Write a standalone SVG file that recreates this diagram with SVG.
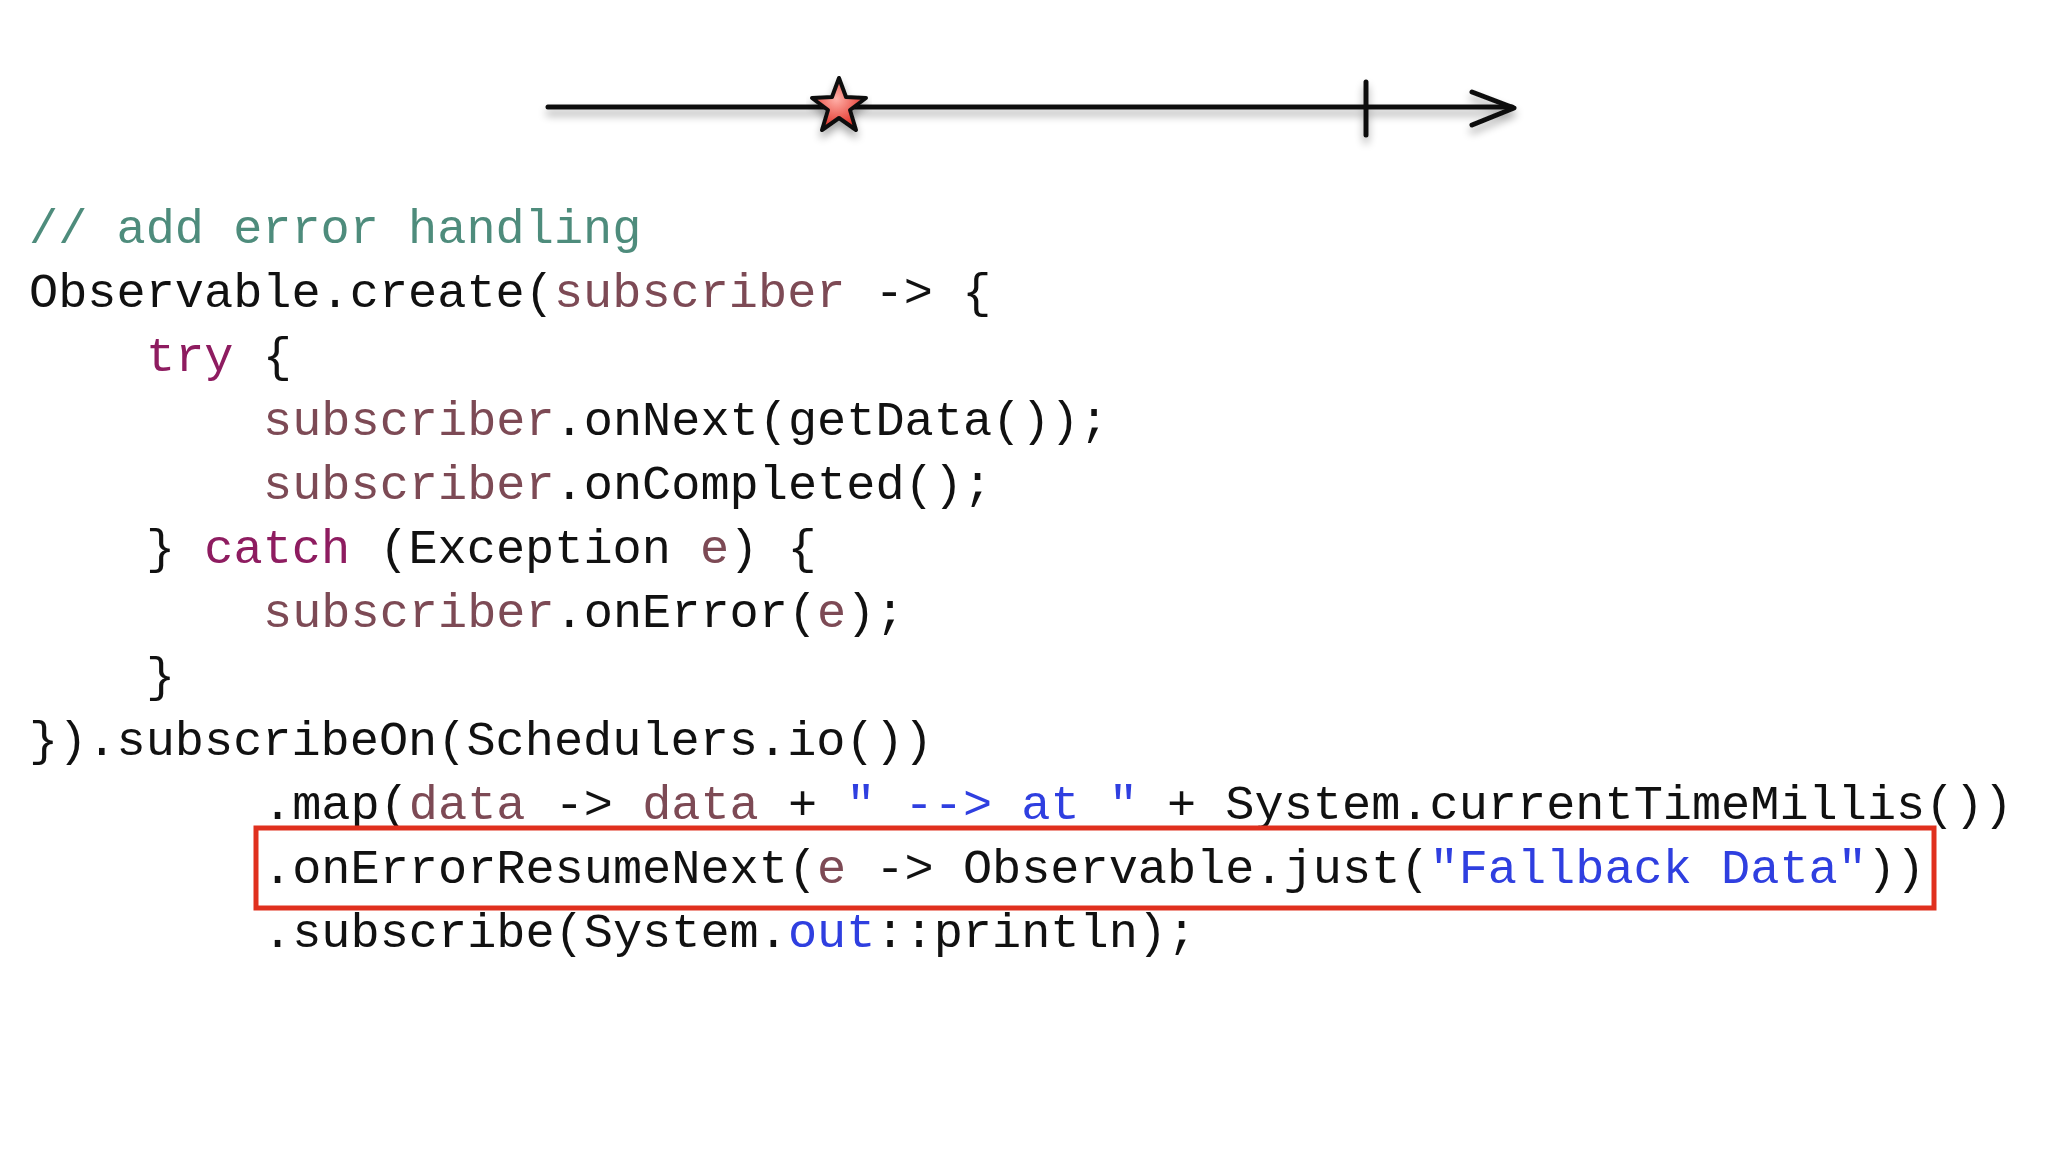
<svg xmlns="http://www.w3.org/2000/svg" width="2048" height="1152" viewBox="0 0 2048 1152">
<defs>
<radialGradient id="sg" cx="0.45" cy="0.4" r="0.6"><stop offset="0" stop-color="#ffb0a8"/><stop offset="1" stop-color="#e02a20"/></radialGradient>
<filter id="sh" x="-10%" y="-50%" width="120%" height="200%"><feGaussianBlur in="SourceAlpha" stdDeviation="4"/><feOffset dx="0" dy="6"/><feComponentTransfer><feFuncA type="linear" slope="0.35"/></feComponentTransfer><feMerge><feMergeNode/><feMergeNode in="SourceGraphic"/></feMerge></filter>
<style>
text{font-family:"Liberation Mono","DejaVu Sans Mono",monospace;font-size:48.6px;fill:#111}
.c{fill:#4e8c7c}.v{fill:#7d4a55}.k{fill:#8e1c60}.s{fill:#2f3fe0}
.ln{stroke:#111;stroke-width:5;fill:none;stroke-linecap:round;stroke-linejoin:round}
</style>
</defs>
<rect width="2048" height="1152" fill="#fff"/>
<g id="timeline" filter="url(#sh)">
<path class="ln" d="M548 107H1512"/>
<path class="ln" d="M1366 82V135"/>
<path class="ln" d="M1472 92L1514 108L1472 125"/>
</g>
<g id="star" filter="url(#sh)">
<polygon points="839,78 846,97 866,98 850,110 856,130 839,118 822,130 828,110 812,98 832,97" fill="url(#sg)" stroke="#111" stroke-width="4" stroke-linejoin="round"/>
</g>
<g id="code">
<text x="29" y="243"><tspan class="c">// add error handling</tspan></text>
<text x="29" y="307">Observable.create(<tspan class="v">subscriber</tspan> -&gt; {</text>
<text x="146" y="371"><tspan class="k">try</tspan> {</text>
<text x="263" y="435"><tspan class="v">subscriber</tspan>.onNext(getData());</text>
<text x="263" y="499"><tspan class="v">subscriber</tspan>.onCompleted();</text>
<text x="146" y="563">} <tspan class="k">catch</tspan> (Exception <tspan class="v">e</tspan>) {</text>
<text x="263" y="627"><tspan class="v">subscriber</tspan>.onError(<tspan class="v">e</tspan>);</text>
<text x="146" y="691">}</text>
<text x="29" y="755">}).subscribeOn(Schedulers.io())</text>
<text x="263" y="819">.map(<tspan class="v">data</tspan> -&gt; <tspan class="v">data</tspan> + <tspan class="s">" --&gt; at "</tspan> + System.currentTimeMillis())</text>
<text x="263" y="883">.onErrorResumeNext(<tspan class="v">e</tspan> -&gt; Observable.just(<tspan class="s">"Fallback Data"</tspan>))</text>
<text x="263" y="947">.subscribe(System.<tspan class="s">out</tspan>::println);</text>
</g>
<g id="highlight">
<rect x="256" y="828" width="1678" height="80" fill="none" stroke="#e0301e" stroke-width="5"/>
</g>
</svg>
